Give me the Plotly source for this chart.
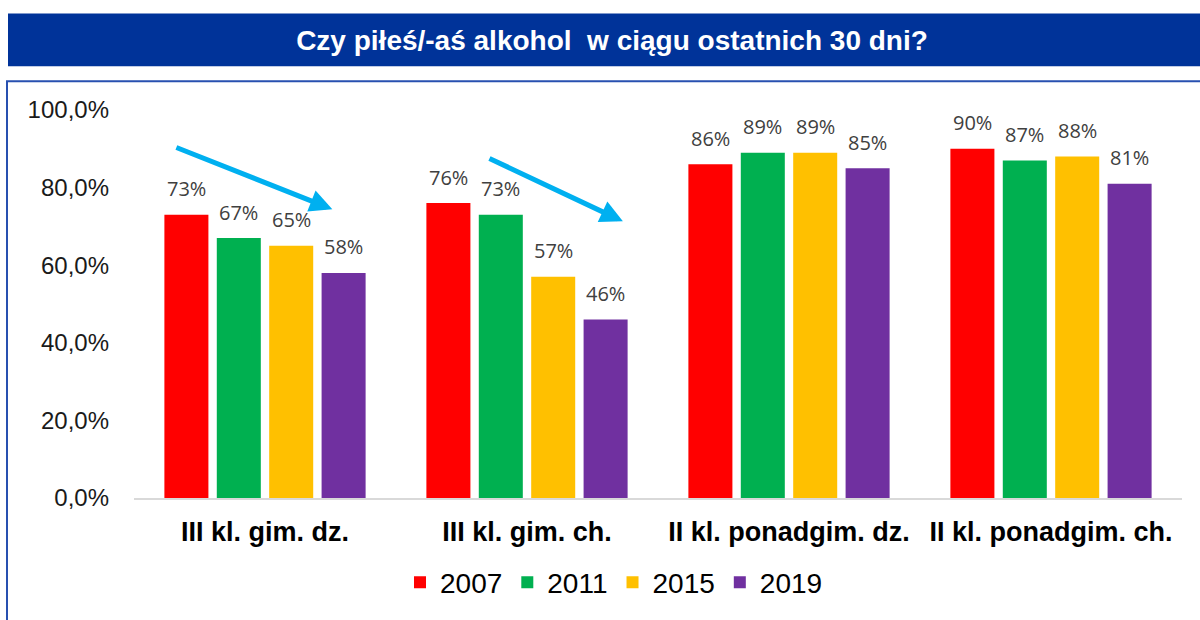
import plotly.graph_objects as go

categories = ["III kl. gim. dz.", "III kl. gim. ch.", "II kl. ponadgim. dz.", "II kl. ponadgim. ch."]
years = ["2007", "2011", "2015", "2019"]
values_2007 = [0.73, 0.76, 0.86, 0.90]
values_2011 = [0.67, 0.73, 0.89, 0.87]
values_2015 = [0.65, 0.57, 0.89, 0.88]
values_2019 = [0.58, 0.46, 0.85, 0.81]
series = [values_2007, values_2011, values_2015, values_2019]
colors = ["#FF0000", "#00B050", "#FFC000", "#7030A0"]
y_ticks = [0, 0.2, 0.4, 0.6, 0.8, 1.0]
title_text = "Czy piłeś/-aś alkohol \u00a0w ciągu ostatnich 30 dni?"

W, H = 1200, 620
L, R, T, B = 134, 1182, 110, 500  # plot area in pixels
BARGAP = 0.2
BARGROUPGAP = 0.16

def px_x(p):
    return (p - L) / (R - L)

def px_y(p):
    return (B - p) / (B - T)

fig = go.Figure()
for name, vals, col in zip(years, series, colors):
    fig.add_trace(go.Bar(
        x=categories, y=vals, name=name,
        marker=dict(color=col, line=dict(width=0)),
        hoverinfo="skip",
    ))

# data labels as annotations positioned on the category axis
slot = (1 - BARGAP) / len(series)
annotations = []
for j, vals in enumerate(series):
    for i, v in enumerate(vals):
        annotations.append(dict(
            x=i + (j - (len(series) - 1) / 2) * slot, y=v, xref="x", yref="y",
            text=f"{round(v * 100)}%", showarrow=False,
            yanchor="middle", yshift=26,
            font=dict(family="Open Sans, Noto Sans, sans-serif", size=20, color="#404040"),
        ))

# trend arrows (data coordinates: category index / value)
arrows = [((-0.344, 0.905), (0.257, 0.744)), ((0.851, 0.877), (1.366, 0.713))]
for (tx, ty), (hx, hy) in arrows:
    annotations.append(dict(
        x=hx, y=hy, ax=tx, ay=ty, xref="x", yref="y", axref="x", ayref="y",
        text="", showarrow=True, arrowhead=2, arrowsize=0.9, arrowwidth=5,
        arrowcolor="#00B0F0", standoff=0,
    ))

shapes = [
    # title bar
    dict(type="rect", xref="paper", yref="paper",
         x0=px_x(8), x1=px_x(1205), y0=px_y(66), y1=px_y(13),
         fillcolor="#003399", line=dict(width=0), layer="below"),
    # frame
    dict(type="rect", xref="paper", yref="paper",
         x0=px_x(7), x1=px_x(1210), y0=px_y(630), y1=px_y(81),
         fillcolor="rgba(0,0,0,0)", line=dict(color="#2850B0", width=2), layer="below"),
]

fig.update_layout(
    width=W, height=H,
    margin=dict(l=L, r=W - R, t=T, b=H - B),
    paper_bgcolor="white", plot_bgcolor="white",
    barmode="group", bargap=BARGAP, bargroupgap=BARGROUPGAP,
    separators=",.",
    title=dict(text=f"<b>{title_text}</b>", x=0.51, xanchor="center",
               y=1 - 40 / H, yanchor="middle", yref="container",
               font=dict(family="Liberation Sans, Arial, sans-serif", size=28, color="white")),
    xaxis=dict(
        type="category", showgrid=False, showline=True, linecolor="#D9D9D9", linewidth=2,
        ticks="", tickfont=dict(family="Liberation Sans, Arial, sans-serif", size=27, color="#000000"),
        tickprefix="<b>", ticksuffix="</b>", ticklabelstandoff=9,
    ),
    yaxis=dict(
        range=[0, 1.0], tickvals=y_ticks, tickformat=".1%", showgrid=False,
        zeroline=False, showline=False, ticks="",
        tickfont=dict(family="Liberation Sans, Arial, sans-serif", size=24, color="#1a1a1a"),
        ticklabelstandoff=24,
    ),
    legend=dict(orientation="h", x=px_x(614), xanchor="center", y=px_y(585), yanchor="middle",
                font=dict(family="Liberation Sans, Arial, sans-serif", size=28, color="#000000"),
                itemwidth=30, traceorder="normal", tracegroupgap=0),
    annotations=annotations,
    shapes=shapes,
)

fig.write_html("out.html", config={"displayModeBar": False},
               post_script="document.body.style.margin='0';")
